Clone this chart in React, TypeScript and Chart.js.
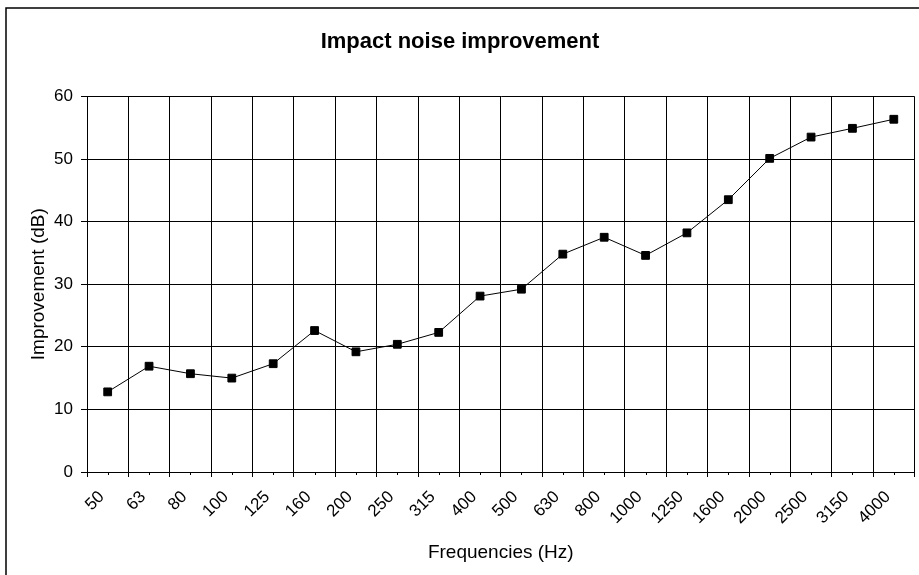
import React, { useEffect, useRef } from "react";
import { Chart, registerables } from "chart.js";

Chart.register(...registerables);

const frequencies: string[] = [
  "50", "63", "80", "100", "125", "160", "200", "250", "315", "400",
  "500", "630", "800", "1000", "1250", "1600", "2000", "2500", "3150", "4000",
];

const improvement: number[] = [
  12.8, 16.9, 15.7, 15.0, 17.3, 22.6, 19.2, 20.4, 22.3, 28.1,
  29.2, 34.8, 37.5, 34.6, 38.2, 43.5, 50.1, 53.5, 54.9, 56.35,
];

const yTicks = { min: 0, max: 60, step: 10 };

const chartTitle = "Impact noise improvement";
const xTitle = "Frequencies (Hz)";
const yTitle = "Improvement (dB)";

const FONT = "'Liberation Sans', Arial, sans-serif";

const framePlugin = {
  id: "frame",
  beforeDraw(chart: any) {
    const { ctx, width, height } = chart;
    ctx.save();
    ctx.fillStyle = "#ffffff";
    ctx.fillRect(0, 0, width, height);
    ctx.strokeStyle = "#000000";
    ctx.lineWidth = 1.5;
    ctx.strokeRect(6, 8, width + 20, height + 20);
    ctx.restore();
  },
};

const minorTickPlugin = {
  id: "minorTicks",
  afterDraw(chart: any) {
    const xs = chart.scales.x;
    const { ctx } = chart;
    const bottom = chart.chartArea.bottom;
    ctx.save();
    ctx.strokeStyle = "#000000";
    ctx.lineWidth = 1;
    for (let i = 0; i < frequencies.length; i++) {
      const x = Math.round(xs.getPixelForValue(i)) + 0.5;
      ctx.beginPath();
      ctx.moveTo(x, bottom);
      ctx.lineTo(x, bottom + 3);
      ctx.stroke();
    }
    ctx.restore();
  },
};

export default function App() {
  const ref = useRef<HTMLCanvasElement | null>(null);

  useEffect(() => {
    if (!ref.current) return;
    const chart = new Chart(ref.current, {
      type: "line",
      data: {
        labels: frequencies,
        datasets: [
          {
            data: improvement,
            borderColor: "#000000",
            borderWidth: 1,
            backgroundColor: "#000000",
            pointStyle: "rect",
            pointRadius: 5.5,
            pointBorderWidth: 1,
            pointBorderColor: "#000000",
            pointBackgroundColor: "#000000",
            tension: 0,
            fill: false,
          },
        ],
      },
      options: {
        responsive: false,
        animation: false,
        devicePixelRatio: 1,
        layout: { padding: { left: 0, right: 1, top: 0, bottom: 0 } },
        plugins: {
          legend: { display: false },
          tooltip: { enabled: false },
          title: {
            display: true,
            text: chartTitle,
            color: "#000000",
            font: { family: FONT, size: 22, weight: "bold", lineHeight: 1.2 },
            padding: { top: 29, bottom: 41 },
          },
        },
        scales: {
          x: {
            type: "category",
            offset: true,
            afterFit(scale: any) {
              scale.height = 103;
            },
            grid: {
              offset: true,
              color: "#000000",
              lineWidth: 1,
              drawTicks: true,
              tickLength: 5,
              tickColor: "#000000",
            },
            border: { display: true, color: "#000000", width: 1 },
            ticks: {
              autoSkip: false,
              minRotation: 45,
              maxRotation: 45,
              padding: 10,
              labelOffset: -6,
              color: "#000000",
              font: { family: FONT, size: 17 },
            },
            title: {
              display: true,
              text: xTitle,
              color: "#000000",
              font: { family: FONT, size: 19, lineHeight: 1.2 },
              padding: { top: 0, bottom: 11 },
            },
          },
          y: {
            type: "linear",
            min: yTicks.min,
            max: yTicks.max,
            afterFit(scale: any) {
              scale.width = 87;
            },
            grid: {
              color: "#000000",
              lineWidth: 1,
              drawTicks: true,
              tickLength: 6,
              tickColor: "#000000",
            },
            border: { display: true, color: "#000000", width: 1 },
            ticks: {
              stepSize: yTicks.step,
              padding: 8,
              color: "#000000",
              font: { family: FONT, size: 17 },
            },
            title: {
              display: true,
              text: yTitle,
              color: "#000000",
              font: { family: FONT, size: 19, lineHeight: 1.2 },
              padding: { top: 27, bottom: 0 },
            },
          },
        },
      },
      plugins: [framePlugin, minorTickPlugin],
    });
    return () => chart.destroy();
  }, []);

  return (
    <div
      style={{
        position: "fixed",
        left: 0,
        top: 0,
        width: 919,
        height: 575,
        overflow: "hidden",
        background: "#ffffff",
      }}
    >
      <canvas
        ref={ref}
        width={921}
        height={575}
        style={{ display: "block", width: 921, height: 575 }}
      />
    </div>
  );
}
